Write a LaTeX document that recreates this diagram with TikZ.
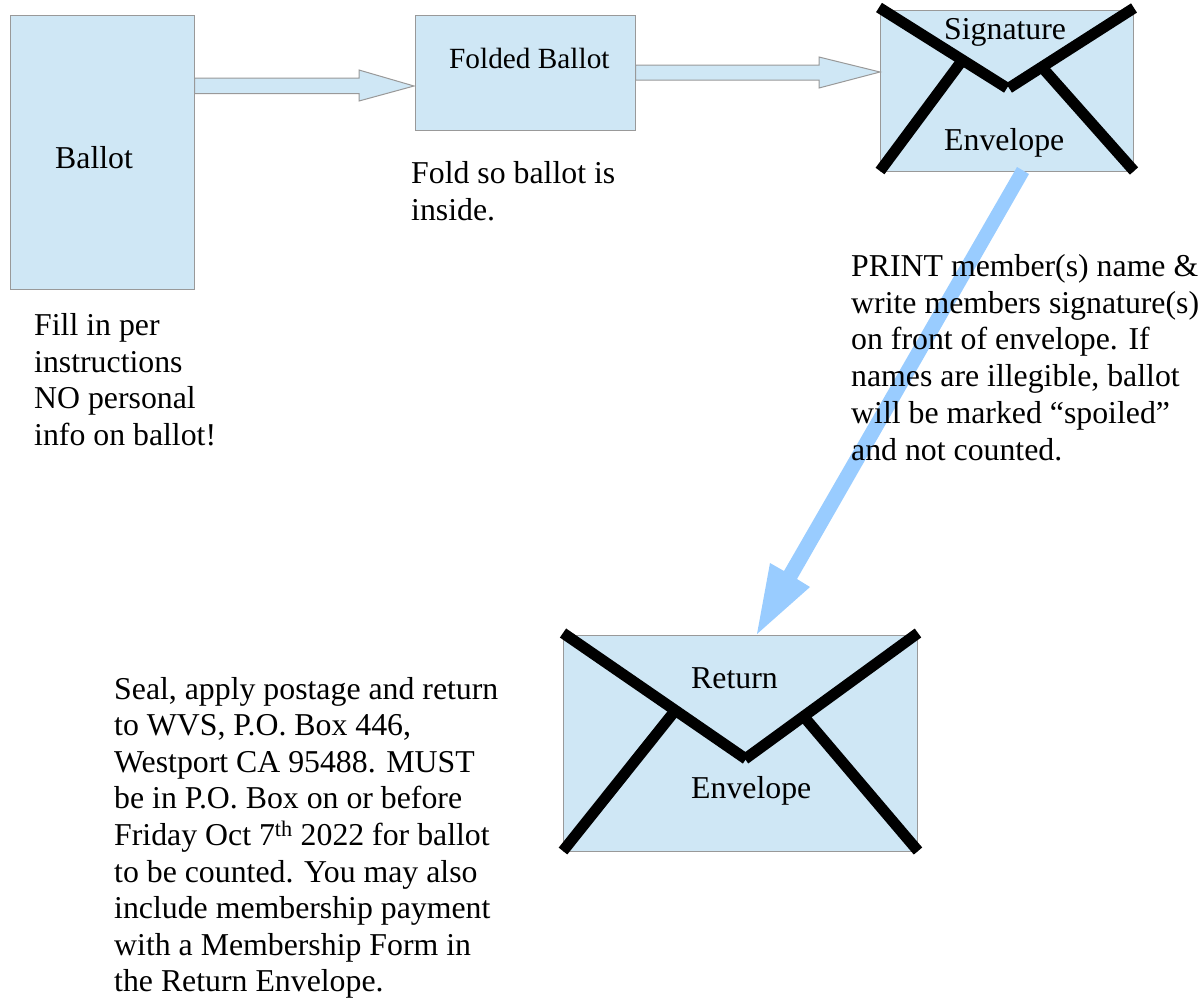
\documentclass[tikz,border=0pt]{standalone}
\usepackage{fontspec}
\setmainfont{Liberation Serif}
\definecolor{boxfill}{HTML}{CFE7F5}
\definecolor{boxline}{HTML}{999999}
\definecolor{bluearrow}{HTML}{99CCFF}
\tikzset{
  boxnode/.style={draw=boxline,fill=boxfill,line width=1pt,inner sep=0pt,minimum width=#1},
  blockarrow/.style={draw=boxline,fill=boxfill,line width=1pt,line join=miter},
  flap/.style={line width=11pt,black,line cap=butt},
  txt/.style={font=\fontsize{31.8}{36.75}\selectfont,inner sep=0pt,anchor=north west,align=left},
  lbl/.style={font=\fontsize{31.8}{36.75}\selectfont,inner sep=0pt,anchor=base west}
}
\begin{document}
\begin{tikzpicture}[x=1pt,y=-1pt]
\useasboundingbox (0,0) rectangle (1202,997);
% boxes
\node[boxnode=184pt,minimum height=274pt,anchor=north west] (ballot) at (9.5,14.5) {};
\node[boxnode=220pt,minimum height=115pt,anchor=north west] (folded) at (414.5,14.5) {};
\node[boxnode=253pt,minimum height=161pt,anchor=north west] (sig) at (879.5,9.5) {};
\node[boxnode=354pt,minimum height=216pt,anchor=north west] (ret) at (562.5,634.5) {};
% block arrows
\draw[blockarrow] (ballot.east |- 0,78) -- (359,78) -- (359,70) -- (414,86) -- (359,101) -- (359,93.5) -- (ballot.east |- 0,93.5) -- cycle;
\draw[blockarrow] (folded.east |- 0,65) -- (819,65) -- (819,57) -- (880,72) -- (819,88) -- (819,80) -- (folded.east |- 0,80) -- cycle;
% big connector
\fill[bluearrow] (1017,167) -- (1029,174) -- (797,579) -- (810,587) -- (757,634) -- (770,563) -- (784,571) -- cycle;
% signature envelope flaps
\draw[flap] (879,7.5) -- (1007,88);
\draw[flap] (1009,88) -- (1134,8);
\draw[flap] (961,62) -- (880,171);
\draw[flap] (1040,65) -- (1134,171);
% return envelope flaps
\draw[flap] (563,633) -- (746,759);
\draw[flap] (745,759) -- (918,633);
\draw[flap] (674,712) -- (563,851);
\draw[flap] (805,718) -- (918,851);
% labels
\node[lbl] (t1) at (55,168) {Ballot};
\node[lbl,font=\fontsize{29.3}{36.5}\selectfont] (t2) at (449,68) {Folded Ballot};
\node[lbl] (t3) at (944,39) {Signature};
\node[lbl] (t4) at (944,150) {Envelope};
\node[lbl] (t5) at (691,688) {Return};
\node[lbl] (t6) at (691,798) {Envelope};
\node[txt] (n1) at (34,313) {Fill in per\\instructions\\NO personal\\info on ballot!};
\node[txt] (n2) at (411,161) {Fold so ballot is\\inside.};
\node[txt] (n3) at (851,254) {PRINT member(s) name \&\\write members signature(s)\\on front of envelope. If\\names are illegible, ballot\\will be marked “spoiled”\\and not counted.};
\node[txt,font=\fontsize{31.8}{36.55}\selectfont] (n4) at (114,677) {Seal, apply postage and return\\to WVS, P.O. Box 446,\\Westport CA 95488. MUST\\be in P.O. Box on or before\\Friday Oct 7\textsuperscript{th} 2022 for ballot\\to be counted. You may also\\include membership payment\\with a Membership Form in\\the Return Envelope.};
\end{tikzpicture}
\end{document}
